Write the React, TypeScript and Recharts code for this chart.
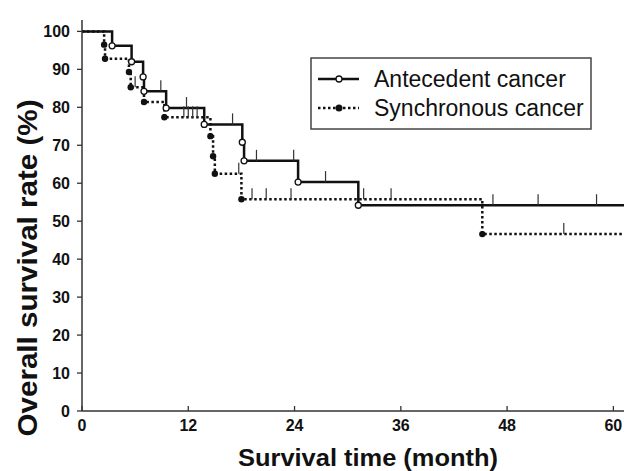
import React from "react";
import {
  ComposedChart,
  Line,
  Scatter,
  XAxis,
  YAxis,
} from "recharts";

// Kaplan-Meier steps (month, survival %)
const antTimes = [0, 3.4, 5.6, 6.9, 7.0, 9.5, 13.8, 18.1, 18.3, 24.4, 31.2, 61.2];
const antSurv = [100, 96.2, 92, 88, 84.2, 79.8, 75.5, 70.8, 65.9, 60.3, 54.2, 54.2];

const synTimes = [0, 2.5, 2.6, 5.3, 5.5, 7.0, 9.3, 14.5, 14.8, 15.0, 18.0, 45.2, 61.2];
const synSurv = [100, 96.5, 92.8, 89.3, 85.3, 81.4, 77.4, 72.4, 67.1, 62.5, 55.8, 46.6, 46.6];

// censored observations
const antCensorTimes = [8.9, 11.8, 17.0, 19.7, 23.9, 27.5, 46.4, 51.5, 58.1];
const antCensorSurv = [84.2, 79.8, 75.5, 65.9, 65.9, 60.3, 54.2, 54.2, 54.2];

const synCensorTimes = [6.0, 11.5, 12.0, 12.5, 13.0, 17.7, 19.2, 20.8, 23.6, 31.8, 34.9, 54.4];
const synCensorSurv = [85.3, 77.4, 77.4, 77.4, 77.4, 62.5, 55.8, 55.8, 55.8, 55.8, 55.8, 46.6];

const xTicks = [0, 12, 24, 36, 48, 60];
const yTicks = [0, 10, 20, 30, 40, 50, 60, 70, 80, 90, 100];

const antRows = antTimes.map((t, i) => ({ t, s: antSurv[i] }));
const synRows = synTimes.map((t, i) => ({ t, s: synSurv[i] }));
const antCensor = antCensorTimes.map((t, i) => ({ t, s: antCensorSurv[i] }));
const synCensor = synCensorTimes.map((t, i) => ({ t, s: synCensorSurv[i] }));

const FONT = "'Liberation Sans', Arial, sans-serif";
const INK = "#111";

function makeDot(filled: boolean, last: number) {
  return (p: any) => {
    if (p.index === 0 || p.index === last) return <g key={p.index} />;
    return filled ? (
      <circle key={p.index} cx={p.cx} cy={p.cy} r={3.2} fill={INK} />
    ) : (
      <circle key={p.index} cx={p.cx} cy={p.cy} r={3} fill="#fff" stroke={INK} strokeWidth={1.3} />
    );
  };
}

const censorMark = (p: any) => (
  <line x1={p.cx} x2={p.cx} y1={p.cy} y2={p.cy - 11} stroke="#333" strokeWidth={1.2} />
);

const XTick = (p: any) => (
  <g>
    <line x1={p.x} x2={p.x} y1={p.y} y2={p.y - 5} stroke="#333" strokeWidth={1.3} />
    <text x={p.x} y={p.y + 9} dy="0.71em" textAnchor="middle" fontFamily={FONT}
      fontWeight="bold" fontSize={16} fill={INK}>
      {p.payload.value}
    </text>
  </g>
);

export default function App() {
  return (
    <div style={{ position: "absolute", left: 0, top: 0, width: 624, height: 471, background: "#fff", overflow: "hidden" }}>
      <ComposedChart width={624} height={471} margin={{ top: 20, right: 0, left: 0, bottom: 0 }}>
        <XAxis
          type="number"
          dataKey="t"
          domain={[0, 61.2]}
          ticks={xTicks}
          allowDataOverflow
          height={60}
          tickLine={false}
          tickSize={0}
          tickMargin={0}
          tick={<XTick />}
          axisLine={{ stroke: "#333", strokeWidth: 1.5 }}
        />
        <YAxis
          type="number"
          dataKey="s"
          domain={[0, 103]}
          ticks={yTicks}
          width={82}
          tickSize={5}
          tickMargin={7}
          tickLine={{ stroke: "#333", strokeWidth: 1.3 }}
          axisLine={{ stroke: "#333", strokeWidth: 1.5 }}
          tick={{ fontFamily: FONT, fontWeight: "bold", fontSize: 16, fill: INK }}
        />
        <Line
          data={synRows}
          dataKey="s"
          type="stepAfter"
          stroke={INK}
          strokeWidth={2.5}
          strokeDasharray="2.5 2.5"
          dot={makeDot(true, synRows.length - 1)}
          activeDot={false}
          isAnimationActive={false}
        />
        <Line
          data={antRows}
          dataKey="s"
          type="stepAfter"
          stroke={INK}
          strokeWidth={2.5}
          dot={makeDot(false, antRows.length - 1)}
          activeDot={false}
          isAnimationActive={false}
        />
        <Scatter data={antCensor} dataKey="s" shape={censorMark} isAnimationActive={false} />
        <Scatter data={synCensor} dataKey="s" shape={censorMark} isAnimationActive={false} />
      </ComposedChart>

      <svg width={624} height={471} style={{ position: "absolute", left: 0, top: 0, pointerEvents: "none", overflow: "visible" }}>
        <text x={368} y={466} textAnchor="middle" fontFamily={FONT} fontWeight="bold"
          fontSize={24} fill={INK} textLength={260} lengthAdjust="spacingAndGlyphs">
          Survival time (month)
        </text>
        <text transform="translate(37,268) rotate(-90)" textAnchor="middle" fontFamily={FONT}
          fontWeight="bold" fontSize={28} fill={INK} textLength={337} lengthAdjust="spacingAndGlyphs">
          Overall survival rate (%)
        </text>
        <rect x={311} y={58} width={280} height={71} fill="#fff" stroke="#444" strokeWidth={1.5} />
        <line x1={318} x2={359} y1={79} y2={79} stroke={INK} strokeWidth={2.5} />
        <circle cx={339} cy={79} r={3} fill="#fff" stroke={INK} strokeWidth={1.3} />
        <text x={374} y={87} fontFamily={FONT} fontSize={23} fill={INK}>Antecedent cancer</text>
        <line x1={318} x2={359} y1={108} y2={108} stroke={INK} strokeWidth={2.5} strokeDasharray="2.5 2.5" />
        <circle cx={339} cy={108} r={3.5} fill={INK} />
        <text x={374} y={116} fontFamily={FONT} fontSize={23} fill={INK}>Synchronous cancer</text>
      </svg>
    </div>
  );
}
